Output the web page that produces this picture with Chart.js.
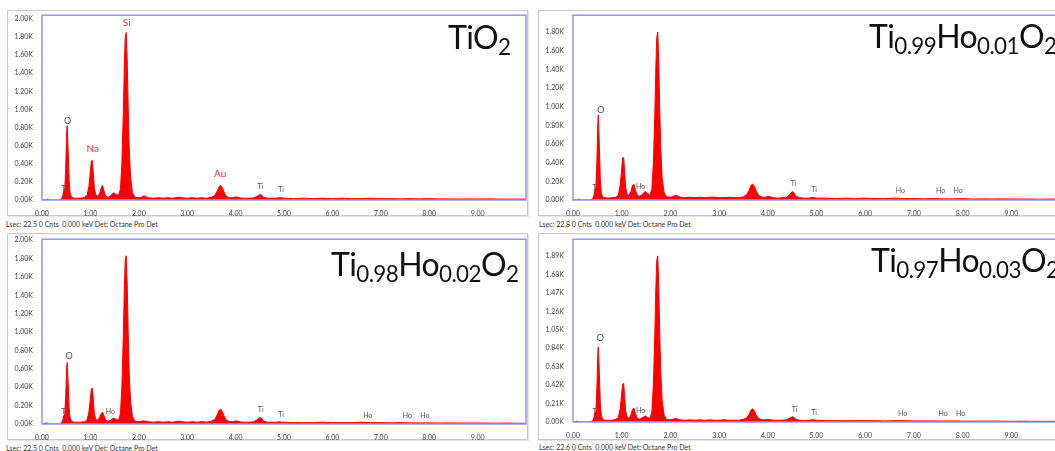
<!DOCTYPE html>
<html>
<head>
<meta charset="utf-8">
<script src="https://cdn.jsdelivr.net/npm/chart.js@4"></script>
<style>
  html, body { margin: 0; padding: 0; background: #fff; overflow: hidden; }
  body { width: 1055px; height: 451px; position: relative; font-family: Lato, sans-serif; }
  .box { position: absolute; border: 1px solid #c9c9c9; box-shadow: 1px 1px 1px #e4e4e4; }
  canvas { position: absolute; }
  .foot { position: absolute; font-size: 7px; color: #333; white-space: pre; line-height: 8px; }
  .title { position: absolute; font-size: 32px; line-height: 32px; color: #111; white-space: nowrap; letter-spacing: -0.6px; }
  .title span { font-size: 0.7em; position: relative; top: 0.25em; }
</style>
</head>
<body>
<div class="box" style="left:7px;top:10px;width:519px;height:204px"></div>
<div class="box" style="left:538px;top:10px;width:540px;height:204px"></div>
<div class="box" style="left:7px;top:233px;width:519px;height:205px"></div>
<div class="box" style="left:538px;top:233px;width:540px;height:205px"></div>

<canvas id="c1" width="521" height="206" style="left:7px;top:10px"></canvas>
<canvas id="c2" width="524" height="206" style="left:538px;top:10px"></canvas>
<canvas id="c3" width="521" height="206" style="left:7px;top:234px"></canvas>
<canvas id="c4" width="524" height="206" style="left:538px;top:234px"></canvas>

<div class="title" style="left:448px;top:21px">TiO<span>2</span></div>
<div class="title" style="left:869px;top:20px">Ti<span>0.99</span>Ho<span>0.01</span>O<span>2</span></div>
<div class="title" style="left:331px;top:248px">Ti<span>0.98</span>Ho<span>0.02</span>O<span>2</span></div>
<div class="title" style="left:871px;top:244px">Ti<span>0.97</span>Ho<span>0.03</span>O<span>2</span></div>

<div class="foot" style="left:6px;top:220px">Lsec: 22.5 0 Cnts  0.000 keV Det: Octane Pro Det</div>
<div class="foot" style="left:539px;top:220px">Lsec: 22.8 0 Cnts  0.000 keV Det: Octane Pro Det</div>
<div class="foot" style="left:6px;top:444px">Lsec: 22.5 0 Cnts  0.000 keV Det: Octane Pro Det</div>
<div class="foot" style="left:539px;top:443px">Lsec: 22.6 0 Cnts  0.000 keV Det: Octane Pro Det</div>

<script>
// energy channels (keV), denser around the peaks
const energies = [
  0.00, 0.08, 0.12, 0.16, 0.25, 0.35, 0.40, 0.43, 0.45, 0.47,
  0.49, 0.51, 0.52, 0.54, 0.56, 0.58, 0.61, 0.66, 0.72, 0.80,
  0.88, 0.93, 0.97, 1.00, 1.02, 1.04, 1.06, 1.08, 1.11, 1.15,
  1.19, 1.22, 1.25, 1.28, 1.32, 1.37, 1.42, 1.46, 1.49, 1.53,
  1.58, 1.62, 1.65, 1.68, 1.70, 1.72, 1.74, 1.76, 1.78, 1.80,
  1.83, 1.87, 1.92, 1.98, 2.05, 2.10, 2.14, 2.20, 2.30, 2.40,
  2.50, 2.60, 2.70, 2.80, 2.90, 3.00, 3.10, 3.20, 3.30, 3.40,
  3.50, 3.57, 3.62, 3.66, 3.69, 3.72, 3.76, 3.81, 3.88, 3.95,
  4.00, 4.05, 4.12, 4.20, 4.30, 4.38, 4.44, 4.48, 4.51, 4.54,
  4.58, 4.65, 4.75, 4.85, 4.91, 4.95, 5.00, 5.20, 5.40, 5.60,
  5.80, 6.00, 6.20, 6.40, 6.60, 6.80, 7.00, 7.20, 7.40, 7.60,
  7.80, 8.00, 8.20, 8.40, 8.60, 8.80, 9.00, 9.20, 9.40, 9.60,
  9.80, 10.00
];

// counts in K
const countsTiO2 = [
  0.00, 0.00, 0.01, 0.00, 0.00, 0.00, 0.01, 0.05, 0.10, 0.12,
  0.35, 0.75, 0.82, 0.55, 0.22, 0.08, 0.03, 0.02, 0.02, 0.02,
  0.03, 0.05, 0.15, 0.32, 0.43, 0.44, 0.30, 0.14, 0.06, 0.04,
  0.07, 0.13, 0.16, 0.10, 0.04, 0.03, 0.05, 0.07, 0.08, 0.06,
  0.05, 0.12, 0.40, 0.95, 1.45, 1.80, 1.85, 1.55, 1.05, 0.60,
  0.25, 0.08, 0.03, 0.025, 0.03, 0.045, 0.04, 0.025, 0.02, 0.025,
  0.02, 0.025, 0.02, 0.03, 0.025, 0.02, 0.025, 0.02, 0.025, 0.02,
  0.03, 0.05, 0.10, 0.15, 0.16, 0.14, 0.09, 0.04, 0.025, 0.025,
  0.035, 0.03, 0.02, 0.02, 0.02, 0.025, 0.04, 0.055, 0.06, 0.05,
  0.03, 0.02, 0.02, 0.02, 0.025, 0.025, 0.02, 0.015, 0.02, 0.015,
  0.02, 0.015, 0.02, 0.015, 0.015, 0.02, 0.015, 0.015, 0.012, 0.015,
  0.012, 0.015, 0.012, 0.012, 0.01, 0.012, 0.01, 0.012, 0.01, 0.01,
  0.01, 0.01
];
const countsHo1 = [
  0.00, 0.00, 0.01, 0.00, 0.00, 0.00, 0.01, 0.05, 0.11, 0.13,
  0.40, 0.83, 0.91, 0.60, 0.24, 0.08, 0.03, 0.025, 0.02, 0.025,
  0.03, 0.05, 0.16, 0.34, 0.45, 0.455, 0.31, 0.14, 0.06, 0.05,
  0.09, 0.15, 0.17, 0.11, 0.05, 0.04, 0.06, 0.08, 0.09, 0.07,
  0.05, 0.12, 0.40, 0.92, 1.40, 1.74, 1.80, 1.50, 1.00, 0.58,
  0.24, 0.08, 0.035, 0.03, 0.035, 0.05, 0.045, 0.03, 0.025, 0.03,
  0.025, 0.03, 0.025, 0.03, 0.03, 0.025, 0.025, 0.03, 0.025, 0.025,
  0.035, 0.06, 0.11, 0.16, 0.17, 0.15, 0.10, 0.05, 0.03, 0.03,
  0.04, 0.035, 0.025, 0.02, 0.025, 0.03, 0.05, 0.08, 0.09, 0.075,
  0.04, 0.025, 0.02, 0.02, 0.03, 0.025, 0.02, 0.02, 0.015, 0.02,
  0.015, 0.02, 0.015, 0.015, 0.02, 0.015, 0.015, 0.012, 0.015, 0.012,
  0.012, 0.015, 0.01, 0.012, 0.01, 0.012, 0.01, 0.01, 0.01, 0.008,
  0.01, 0.008
];
const countsHo2 = [
  0.00, 0.01, 0.01, 0.00, 0.00, 0.00, 0.01, 0.04, 0.09, 0.11,
  0.30, 0.61, 0.67, 0.45, 0.18, 0.07, 0.03, 0.02, 0.02, 0.02,
  0.025, 0.04, 0.13, 0.28, 0.38, 0.39, 0.27, 0.12, 0.05, 0.04,
  0.07, 0.11, 0.13, 0.09, 0.04, 0.03, 0.04, 0.06, 0.06, 0.05,
  0.04, 0.11, 0.40, 0.95, 1.45, 1.78, 1.83, 1.52, 1.02, 0.58,
  0.24, 0.08, 0.03, 0.025, 0.03, 0.035, 0.03, 0.025, 0.02, 0.025,
  0.02, 0.025, 0.02, 0.03, 0.025, 0.02, 0.025, 0.02, 0.025, 0.02,
  0.03, 0.05, 0.10, 0.15, 0.16, 0.14, 0.09, 0.04, 0.025, 0.025,
  0.035, 0.03, 0.02, 0.02, 0.02, 0.025, 0.045, 0.065, 0.07, 0.06,
  0.03, 0.02, 0.02, 0.02, 0.025, 0.02, 0.02, 0.015, 0.015, 0.015,
  0.02, 0.015, 0.015, 0.015, 0.02, 0.015, 0.015, 0.012, 0.015, 0.012,
  0.012, 0.012, 0.01, 0.012, 0.01, 0.01, 0.01, 0.01, 0.008, 0.01,
  0.008, 0.008
];
const countsHo3 = [
  0.00, 0.01, 0.00, 0.00, 0.00, 0.00, 0.01, 0.05, 0.10, 0.12,
  0.38, 0.78, 0.855, 0.57, 0.22, 0.08, 0.03, 0.02, 0.02, 0.02,
  0.03, 0.05, 0.15, 0.33, 0.43, 0.44, 0.30, 0.13, 0.06, 0.04,
  0.08, 0.14, 0.16, 0.10, 0.04, 0.03, 0.05, 0.06, 0.07, 0.05,
  0.04, 0.12, 0.42, 1.00, 1.50, 1.84, 1.89, 1.57, 1.05, 0.60,
  0.25, 0.08, 0.03, 0.025, 0.03, 0.04, 0.035, 0.025, 0.02, 0.025,
  0.02, 0.025, 0.02, 0.025, 0.02, 0.02, 0.025, 0.02, 0.02, 0.02,
  0.03, 0.05, 0.09, 0.14, 0.15, 0.13, 0.08, 0.04, 0.025, 0.025,
  0.03, 0.025, 0.02, 0.02, 0.02, 0.025, 0.04, 0.055, 0.06, 0.05,
  0.03, 0.02, 0.015, 0.02, 0.025, 0.025, 0.02, 0.015, 0.015, 0.015,
  0.015, 0.015, 0.015, 0.012, 0.015, 0.015, 0.012, 0.012, 0.012, 0.01,
  0.012, 0.01, 0.01, 0.01, 0.01, 0.01, 0.008, 0.01, 0.008, 0.008,
  0.008, 0.008
];

const xTicks = [0, 1, 2, 3, 4, 5, 6, 7, 8, 9];
const yTicks200 = [0, 0.2, 0.4, 0.6, 0.8, 1.0, 1.2, 1.4, 1.6, 1.8, 2.0];
const yTicks180 = [0, 0.2, 0.4, 0.6, 0.8, 1.0, 1.2, 1.4, 1.6, 1.8];
const yTicks189 = [0, 0.21, 0.42, 0.63, 0.84, 1.05, 1.26, 1.47, 1.68, 1.89];

// peak markers: element, energy (keV), height (K)
const peaksTiO2 = ['O', 'Na', 'Si', 'Au', 'Ti', 'Ti', 'Ti'];
const peaksTiO2KeV = [0.53, 1.05, 1.75, 3.68, 0.46, 4.51, 4.94];
const peaksTiO2Cnt = [0.87, 0.57, 1.96, 0.29, 0.12, 0.15, 0.11];

const peaksHo = ['O', 'Ti', 'Ho', 'Ti', 'Ti', 'Ho', 'Ho', 'Ho'];
const peaksHo1KeV = [0.57, 0.46, 1.39, 4.53, 4.95, 6.72, 7.55, 7.91];
const peaksHo1Cnt = [0.96, 0.13, 0.14, 0.17, 0.11, 0.10, 0.10, 0.10];
const peaksHo2KeV = [0.56, 0.46, 1.41, 4.52, 4.94, 6.73, 7.55, 7.91];
const peaksHo2Cnt = [0.74, 0.13, 0.13, 0.16, 0.10, 0.09, 0.09, 0.09];
const peaksHo3KeV = [0.56, 0.46, 1.39, 4.55, 4.95, 6.77, 7.60, 7.96];
const peaksHo3Cnt = [0.95, 0.12, 0.13, 0.14, 0.11, 0.09, 0.09, 0.09];

const redPeaks = ['Na', 'Si', 'Au'];

const peakLabels = {
  id: 'peakLabels',
  afterDatasetsDraw(chart, args, opts) {
    const { ctx, scales: { x, y } } = chart;
    ctx.save();
    ctx.textAlign = 'center';
    ctx.textBaseline = 'middle';
    opts.names.forEach((n, i) => {
      const red = redPeaks.includes(n);
      ctx.fillStyle = red ? '#ff2a2a' : '#555';
      ctx.font = (red ? 10 : n === 'O' ? 9 : 7) + 'px Lato';
      ctx.fillText(n, x.getPixelForValue(opts.kev[i]), y.getPixelForValue(opts.cnt[i]));
    });
    ctx.restore();
  }
};

// blue frame round the plot area
const frame = {
  id: 'frame',
  afterDatasetsDraw(chart) {
    const { ctx, chartArea: a } = chart;
    ctx.save();
    ctx.strokeStyle = '#9494f2';
    ctx.lineWidth = 1.5;
    ctx.strokeRect(a.left, a.top, a.right - a.left, a.bottom - a.top);
    ctx.restore();
  }
};

function makeChart(id, counts, yMax, yTicks, names, kev, cnt, pad, xHeight) {
  const ctx = document.getElementById(id).getContext('2d');
  return new Chart(ctx, {
    type: 'line',
    data: {
      datasets: [{
        data: energies.map((e, i) => ({ x: e, y: counts[i] })),
        borderColor: '#ff0000',
        backgroundColor: '#ff0000',
        borderWidth: 1,
        pointRadius: 0,
        tension: 0,
        fill: 'origin'
      }]
    },
    options: {
      responsive: false,
      animation: false,
      devicePixelRatio: 1,
      layout: { padding: pad },
      plugins: {
        legend: { display: false },
        tooltip: { enabled: false },
        peakLabels: { names, kev, cnt }
      },
      scales: {
        x: {
          type: 'linear',
          min: 0,
          max: 10,
          grid: { display: false },
          border: { display: false },
          afterBuildTicks: (axis) => { axis.ticks = xTicks.map(v => ({ value: v })); },
          afterFit: (axis) => { axis.height = xHeight; },
          ticks: {
            padding: 2,
            color: '#444',
            font: { family: 'Lato', size: 7 },
            maxRotation: 0,
            autoSkip: false,
            callback: (v) => v.toFixed(2)
          }
        },
        y: {
          min: 0,
          max: yMax,
          grid: { display: false },
          border: { display: false },
          afterBuildTicks: (axis) => { axis.ticks = yTicks.map(v => ({ value: v })); },
          afterFit: (axis) => { axis.width = 35; },
          ticks: {
            padding: 1,
            color: '#444',
            font: { family: 'Lato', size: 7 },
            autoSkip: false,
            callback: (v) => v.toFixed(2) + 'K'
          }
        }
      }
    },
    plugins: [frame, peakLabels]
  });
}

makeChart('c1', countsTiO2, 2.04, yTicks200, peaksTiO2, peaksTiO2KeV, peaksTiO2Cnt, { top: 1, right: 2, left: 0, bottom: 0 }, 16);
makeChart('c2', countsHo1, 1.98, yTicks180, peaksHo, peaksHo1KeV, peaksHo1Cnt, { top: 2, right: 2, left: 0, bottom: 0 }, 16);
makeChart('c3', countsHo2, 2.01, yTicks200, peaksHo, peaksHo2KeV, peaksHo2Cnt, { top: 2, right: 2, left: 0, bottom: 0 }, 16);
makeChart('c4', countsHo3, 2.08, yTicks189, peaksHo, peaksHo3KeV, peaksHo3Cnt, { top: 3, right: 2, left: 0, bottom: 0 }, 18);
</script>
</body>
</html>
